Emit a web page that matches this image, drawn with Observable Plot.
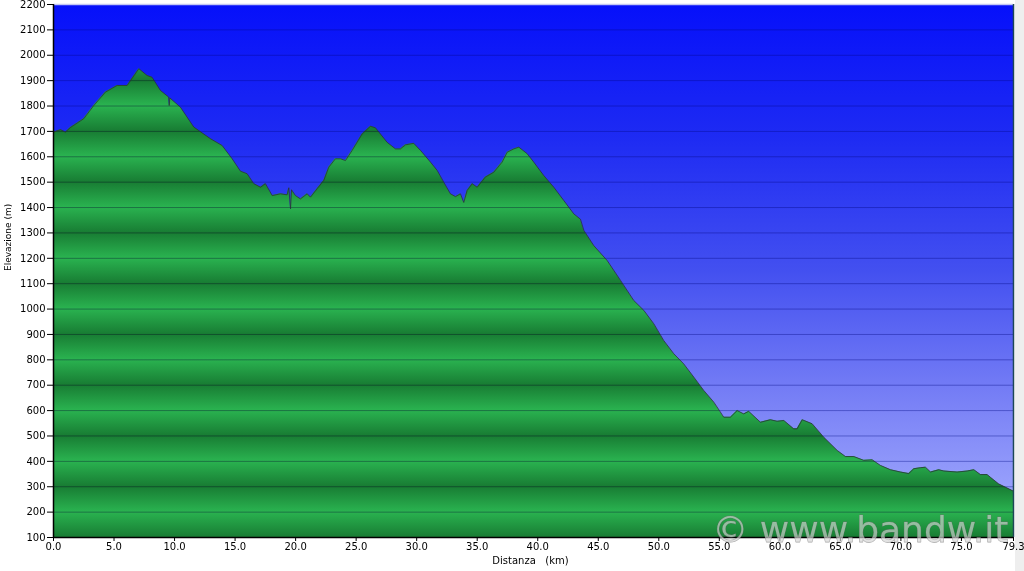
<!DOCTYPE html>
<html>
<head>
<meta charset="utf-8">
<script src="https://cdn.jsdelivr.net/npm/d3@7"></script>
<script src="https://cdn.jsdelivr.net/npm/@observablehq/plot@0.6"></script>
<style>
  html, body { margin: 0; padding: 0; background: #ffffff; }
  #chart svg { display: block; }
</style>
</head>
<body>
<div id="chart"></div>
<script>
// Distance (km) along the route
const km = [
  0.00, 0.58, 0.99, 1.40, 2.50, 3.33, 4.30, 5.26, 6.09, 7.05, 7.74, 8.15, 8.84, 9.52, 9.56, 9.61,
  10.49, 11.59, 12.97, 13.94, 14.76, 15.45, 16.00, 16.55, 17.10, 17.51, 18.07, 18.75, 19.30, 19.44,
  19.58, 19.66, 19.99, 20.40, 20.96, 21.23, 21.78, 22.33, 22.74, 23.29, 23.71, 24.12, 24.67, 25.50,
  26.19, 26.60, 27.56, 28.25, 28.66, 29.08, 29.76, 30.32, 31.14, 31.70, 32.24, 32.79, 33.21, 33.62,
  33.89, 34.17, 34.59, 35.00, 35.68, 36.37, 37.06, 37.48, 38.02, 38.44, 39.13, 39.67, 40.50, 41.33,
  42.15, 42.98, 43.53, 43.81, 44.63, 45.74, 46.84, 47.93, 48.76, 49.59, 50.41, 51.24, 52.06, 52.89,
  53.72, 54.55, 55.37, 55.92, 56.48, 57.02, 57.43, 58.40, 59.22, 59.78, 60.33, 61.15, 61.43, 61.85,
  62.67, 63.63, 64.74, 65.42, 66.11, 66.93, 67.63, 68.31, 69.14, 69.97, 70.65, 71.07, 71.62, 72.03,
  72.45, 73.13, 73.55, 74.65, 75.48, 76.03, 76.57, 77.12, 77.40, 78.08, 78.64, 79.19, 79.30
];
// Elevation (m)
const elev = [
  1697, 1707, 1697, 1715, 1750, 1802, 1855, 1881, 1881, 1947, 1920, 1913, 1861, 1835, 1802, 1832,
  1795, 1717, 1671, 1644, 1592, 1543, 1533, 1494, 1480, 1494, 1447, 1454, 1450, 1478,
  1395, 1470, 1447, 1434, 1454, 1441, 1474, 1507, 1559, 1592, 1592, 1585, 1625, 1690,
  1720, 1714, 1657, 1631, 1631, 1647, 1653, 1625, 1579, 1546, 1500, 1454, 1443, 1454,
  1420, 1467, 1494, 1480, 1520, 1539, 1579, 1618, 1631, 1638, 1612, 1579, 1526, 1480,
  1428, 1375, 1354, 1310, 1250, 1191, 1113, 1034, 995, 942, 876, 824, 784, 732,
  679, 633, 574, 574, 600, 587, 597, 554, 564, 558, 561, 528, 528, 564,
  548, 495, 443, 419, 419, 404, 406, 384, 367, 358, 352, 371, 375, 377,
  358, 367, 362, 358, 362, 367, 348, 348, 337, 311, 298, 285, 283
];
// Tick values
const xTicks = [0, 5, 10, 15, 20, 25, 30, 35, 40, 45, 50, 55, 60, 65, 70, 75, 79.3];
const yTicks = [100, 200, 300, 400, 500, 600, 700, 800, 900, 1000, 1100, 1200, 1300, 1400, 1500, 1600, 1700, 1800, 1900, 2000, 2100, 2200];
const xLabel = "Distanza\u00a0\u00a0\u00a0(km)";
const yLabel = "Elevazione (m)";
const watermark = "\u00a9 www.bandw.it";

const data = km.map((k, i) => ({km: k, elev: elev[i]}));

const chart = Plot.plot({
  width: 1024,
  height: 571,
  marginLeft: 53,
  marginRight: 11,
  marginTop: 4,
  marginBottom: 34,
  style: {
    fontFamily: "DejaVu Sans, Verdana, sans-serif",
    fontSize: "10px",
    color: "#000",
    background: "linear-gradient(to right, #ffffff 1015px, #eeeeee 1015px)"
  },
  x: {domain: [0, 79.3]},
  y: {domain: [100, 2200]},
  marks: [
    Plot.frame({fill: "url(#bgGrad)", stroke: null}),
    Plot.areaY(data, {x: "km", y1: 100, y2: "elev", fill: "url(#greenGrad)", curve: "linear"}),
    Plot.ruleY(yTicks.slice(1, -1), {stroke: "#9ca2d2", strokeWidth: 1, mixBlendMode: "multiply"}),
    Plot.lineY(data, {x: "km", y: "elev", stroke: "#2a2f3a", strokeWidth: 0.9, strokeOpacity: 0.85}),
    Plot.ruleY([2200], {stroke: "#c4c6f4", strokeWidth: 1.5}),
    Plot.ruleX([79.3], {stroke: "#1d4656", strokeWidth: 1.5}),
    Plot.ruleX([0], {stroke: "#000", strokeWidth: 1.5}),
    Plot.ruleY([100], {stroke: "#000", strokeWidth: 1.5}),
    Plot.axisY({ticks: yTicks, tickFormat: d3.format("d"), tickSize: 6, tickPadding: 2, label: null, fontSize: 10}),
    Plot.axisX({ticks: xTicks, tickFormat: d3.format(".1f"), tickSize: 4, tickPadding: 1, label: null, fontSize: 10}),
    Plot.text([yLabel], {frameAnchor: "left", dx: -45, rotate: -90, fontSize: 9, fill: "#000"}),
    Plot.text([xLabel], {frameAnchor: "bottom", dy: 26, dx: -3, fontSize: 10, fill: "#000"}),
    Plot.text([watermark], {frameAnchor: "bottom-right", textAnchor: "end", dx: -5, dy: 4, fontSize: 36,
      fill: "#d4d4d4", fillOpacity: 0.65, stroke: "#6e6e6e", strokeWidth: 0.8, strokeOpacity: 0.6})
  ]
});

document.getElementById("chart").appendChild(chart);

// Gradients built from the y scale
const ys = chart.scale("y");
const svg = d3.select(chart);
const defs = svg.insert("defs", ":first-child");

const bg = defs.append("linearGradient")
  .attr("id", "bgGrad").attr("gradientUnits", "userSpaceOnUse")
  .attr("x1", 0).attr("x2", 0)
  .attr("y1", ys.apply(2200)).attr("y2", ys.apply(100));
[[0, "#0610fa"], [0.25, "#1e2bf3"], [0.5, "#4350f0"], [0.75, "#7a82f6"], [1, "#a9b1ff"]]
  .forEach(([o, c]) => bg.append("stop").attr("offset", o).attr("stop-color", c));

const g0 = ys.apply(2200), g1 = ys.apply(100);
const gr = defs.append("linearGradient")
  .attr("id", "greenGrad").attr("gradientUnits", "userSpaceOnUse")
  .attr("x1", 0).attr("x2", 0).attr("y1", g0).attr("y2", g1);
yTicks.slice().reverse().forEach(v => {
  const off = (ys.apply(v) - g0) / (g1 - g0);
  const odd = (v / 100) % 2 === 1;
  gr.append("stop").attr("offset", off).attr("stop-color", odd ? "#187c33" : "#2ab350");
});
</script>
</body>
</html>
